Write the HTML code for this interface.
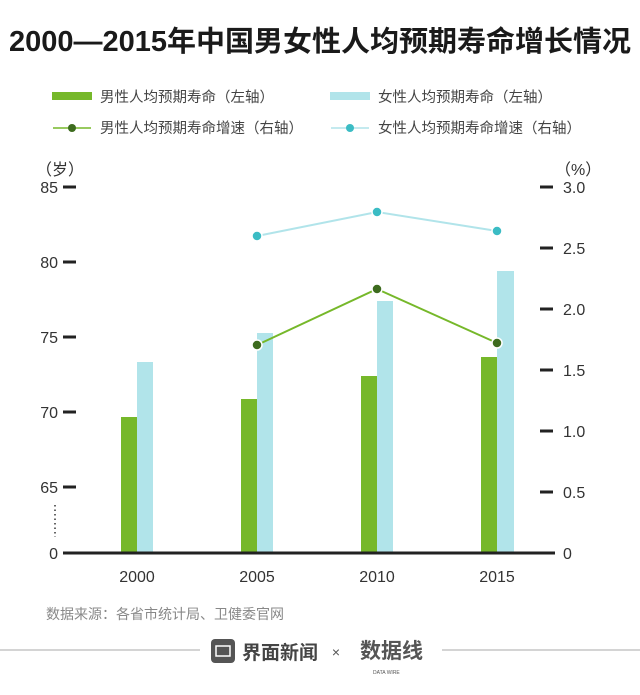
<!DOCTYPE html>
<html><head><meta charset="utf-8"><style>body{margin:0;background:#fff}svg{display:block}text{font-family:"Liberation Sans","Noto Sans CJK SC",sans-serif}</style></head><body>
<svg width="640" height="695" viewBox="0 0 640 695" xmlns="http://www.w3.org/2000/svg">
<text x="320" y="51" text-anchor="middle" font-size="28.5" font-weight="bold" fill="#1a1a1a" textLength="622" lengthAdjust="spacingAndGlyphs">2000—2015年中国男女性人均预期寿命增长情况</text>
<rect x="52" y="92" width="40" height="8" fill="#76b82a"/>
<text x="100" y="102" font-size="14.5" fill="#444">男性人均预期寿命（左轴）</text>
<rect x="330" y="92" width="40" height="8" fill="#b1e4ea"/>
<text x="378" y="102" font-size="14.5" fill="#444">女性人均预期寿命（左轴）</text>
<line x1="53" y1="128" x2="91" y2="128" stroke="#76b82a" stroke-width="1.5"/><circle cx="72" cy="128" r="4" fill="#3d6b1e"/>
<text x="100" y="133" font-size="14.5" fill="#444">男性人均预期寿命增速（右轴）</text>
<line x1="331" y1="128" x2="369" y2="128" stroke="#b1e4ea" stroke-width="1.5"/><circle cx="350" cy="128" r="4" fill="#3bbcc4"/>
<text x="378" y="133" font-size="14.5" fill="#444">女性人均预期寿命增速（右轴）</text>
<text x="36" y="175" font-size="16" fill="#333">（岁）</text>
<text x="555" y="175" font-size="16" fill="#333">（%）</text>
<g font-size="16" fill="#333" text-anchor="end">
<text x="58" y="193">85</text><text x="58" y="268">80</text><text x="58" y="343">75</text><text x="58" y="418">70</text><text x="58" y="493">65</text><text x="58" y="559">0</text></g>
<g stroke="#222" stroke-width="3"><line x1="63" y1="187" x2="76" y2="187"/><line x1="63" y1="262" x2="76" y2="262"/><line x1="63" y1="337" x2="76" y2="337"/><line x1="63" y1="412" x2="76" y2="412"/><line x1="63" y1="487" x2="76" y2="487"/>
<line x1="540" y1="187" x2="553" y2="187"/><line x1="540" y1="248" x2="553" y2="248"/><line x1="540" y1="309" x2="553" y2="309"/><line x1="540" y1="370" x2="553" y2="370"/><line x1="540" y1="431" x2="553" y2="431"/><line x1="540" y1="492" x2="553" y2="492"/></g>
<line x1="55" y1="505" x2="55" y2="537" stroke="#333" stroke-width="1.5" stroke-dasharray="1.5,3"/>
<g font-size="16" fill="#333"><text x="563" y="193">3.0</text><text x="563" y="254">2.5</text><text x="563" y="315">2.0</text><text x="563" y="376">1.5</text><text x="563" y="437">1.0</text><text x="563" y="498">0.5</text><text x="563" y="559">0</text></g>
<g fill="#76b82a"><rect x="121" y="417" width="16" height="136"/><rect x="241" y="399" width="16" height="154"/><rect x="361" y="376" width="16" height="177"/><rect x="481" y="357" width="16" height="196"/></g>
<g fill="#b1e4ea"><rect x="137" y="362" width="16" height="191"/><rect x="257" y="333" width="16" height="220"/><rect x="377" y="301" width="16" height="252"/><rect x="497" y="271" width="17" height="282"/></g>
<line x1="63" y1="553" x2="555" y2="553" stroke="#222" stroke-width="3"/>
<polyline points="257,236 377,212 497,231" fill="none" stroke="#b1e4ea" stroke-width="2"/>
<g fill="#3bbcc4" stroke="#fff" stroke-width="1.5"><circle cx="257" cy="236" r="5"/><circle cx="377" cy="212" r="5"/><circle cx="497" cy="231" r="5"/></g>
<polyline points="257,345 377,289 497,343" fill="none" stroke="#76b82a" stroke-width="2"/>
<g fill="#3d6b1e" stroke="#fff" stroke-width="1.5"><circle cx="257" cy="345" r="5"/><circle cx="377" cy="289" r="5"/><circle cx="497" cy="343" r="5"/></g>
<g font-size="16" fill="#333" text-anchor="middle"><text x="137" y="582">2000</text><text x="257" y="582">2005</text><text x="377" y="582">2010</text><text x="497" y="582">2015</text></g>
<text x="46" y="619" font-size="14" fill="#888">数据来源：各省市统计局、卫健委官网</text>
<line x1="0" y1="650" x2="200" y2="650" stroke="#aaa" stroke-width="1"/>
<line x1="442" y1="650" x2="640" y2="650" stroke="#aaa" stroke-width="1"/>
<rect x="211" y="639" width="24" height="24" rx="4" fill="#555"/>
<rect x="216" y="646" width="14" height="10" fill="none" stroke="#fff" stroke-width="1.5"/>
<text x="242" y="659" font-size="19" font-weight="bold" fill="#444">界面新闻</text>
<text x="336" y="657" font-size="14" fill="#555" text-anchor="middle">×</text>
<text x="360" y="658" font-size="21" font-weight="bold" fill="#555">数据线</text>
<text x="373" y="674" font-size="5" fill="#555">DATA WIRE</text>
</svg>
</body></html>
